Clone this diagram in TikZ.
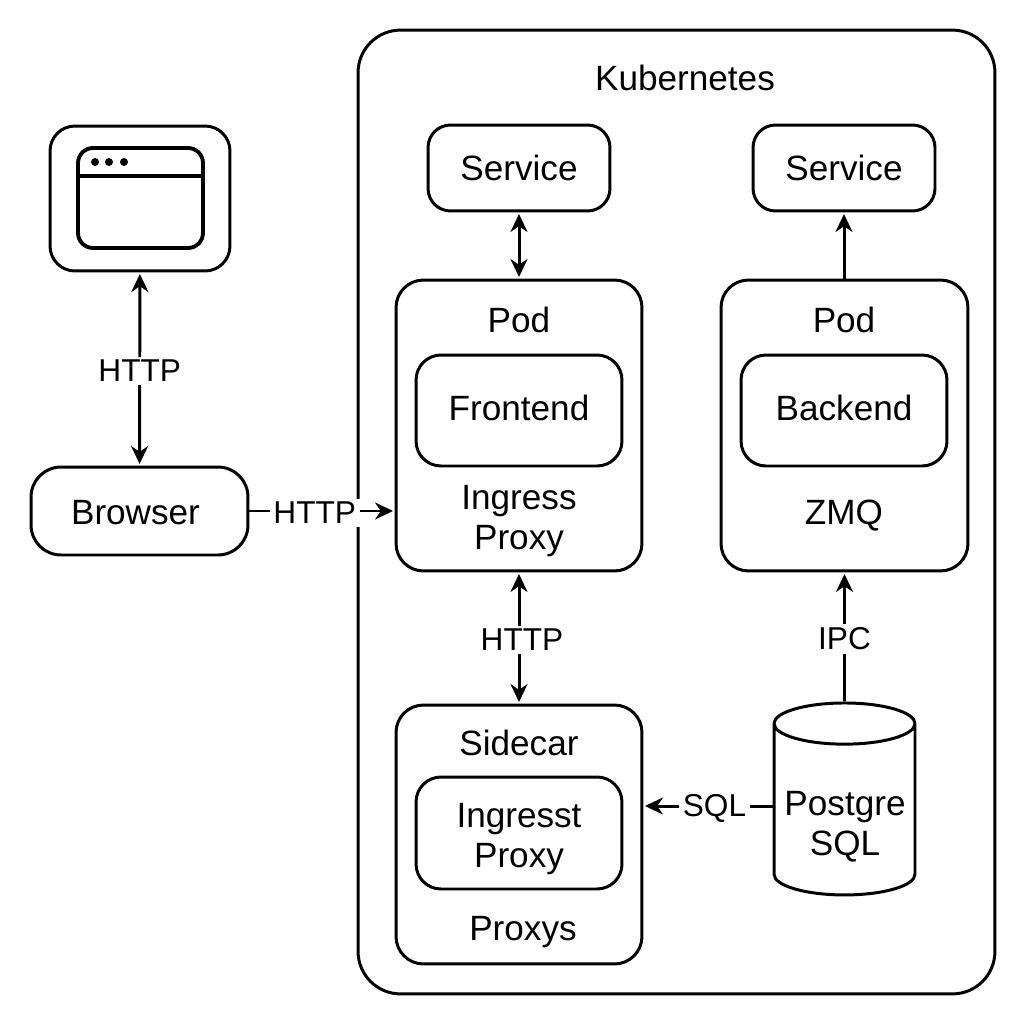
\documentclass[tikz,border=0pt]{standalone}
\usepackage{fontspec}
\setmainfont{Liberation Sans}
\usetikzlibrary{shapes.geometric,arrows.meta,positioning}
\tikzset{
    box/.style = {rectangle, draw, rounded corners=0.5cm, align=center, inner sep=0pt, font=\fontsize{20}{22.8}\selectfont},
    txt/.style = {inner sep=0pt, align=center, font=\fontsize{20}{22.8}\selectfont},
    el/.style = {fill=white, inner sep=2pt, yshift=-0.04cm, font=\fontsize{18}{20}\selectfont},
    dot/.style = {circle, fill, inner sep=0pt, minimum size=0.16cm},
    to/.style = {-{Stealth[length=0.36cm,width=0.34cm]}, shorten >=0.03cm},
    both/.style = {{Stealth[length=0.36cm,width=0.34cm]}-{Stealth[length=0.36cm,width=0.34cm]}, shorten >=0.03cm, shorten <=0.03cm}
}
\begin{document}
\begin{tikzpicture}[x=0.02cm,y=-0.02cm,line width=1.7pt]
    \useasboundingbox (0,0) rectangle (1024,1024);
    \node (k8s) at (676.5,512) [box, rounded corners=0.85cm, minimum width=12.74cm, minimum height=19.28cm] {};
    \node (k8stitle) at (685,78) [txt] {Kubernetes};

    \node (icon) at (140,198.5) [box, minimum width=3.6cm, minimum height=2.9cm] {};
    \node (window) at (140.5,198) [box, line width=2.2pt, rounded corners=0.3cm, minimum width=2.5cm, minimum height=2cm] {};
    \coordinate (barl) at (78,176);
    \coordinate (barr) at (203,176);
    \draw[line width=2.2pt] (barl) -- (barr);
    \node (d1) at (95,162) [dot] {};
    \node (d2) at (109,162) [dot] {};
    \node (d3) at (124,162) [dot] {};
    \node (browser) at (139.5,511) [box, rounded corners=0.6cm, minimum width=4.34cm, minimum height=1.76cm] {};
    \node (browsertitle) at (135.5,513) [txt] {Browser};

    \node (svcf) at (519,168) [box, rounded corners=0.45cm, minimum width=3.64cm, minimum height=1.72cm] {Service};
    \node (svcb) at (844,168) [box, rounded corners=0.45cm, minimum width=3.64cm, minimum height=1.72cm] {Service};

    \node (podf) at (519,425.5) [box, rounded corners=0.55cm, minimum width=4.92cm, minimum height=5.82cm] {};
    \node (podftitle) at (519,320) [txt] {Pod};
    \node (front) at (519,410.5) [box, minimum width=4.12cm, minimum height=2.22cm] {};
    \node (fronttitle) at (519,407.5) [txt] {Frontend};
    \node (ingress) at (519,521) [txt] {Ingress\\Proxy};

    \node (podb) at (844.5,425.5) [box, rounded corners=0.55cm, minimum width=4.94cm, minimum height=5.82cm] {};
    \node (podbtitle) at (844,320) [txt] {Pod};
    \node (back) at (844,410.5) [box, minimum width=4.12cm, minimum height=2.22cm] {};
    \node (backtitle) at (844,407.5) [txt] {Backend};
    \node (zmq) at (844,516) [txt] {ZMQ};

    \node (side) at (519,834.5) [box, rounded corners=0.55cm, minimum width=4.92cm, minimum height=5.18cm] {};
    \node (sidetitle) at (519,743) [txt] {Sidecar};
    \node (sideinner) at (519,833) [box, minimum width=4.12cm, minimum height=2.24cm] {};
    \node (sideinnertitle) at (519,839) [txt] {Ingresst\\Proxy};
    \node (proxys) at (523,932) [txt] {Proxys};

    \node (pg) at (844.5,800) [cylinder, draw, shape border rotate=90, aspect=0.34, inner sep=0pt, align=center, font=\fontsize{20}{22.8}\selectfont, minimum width=2.82cm, minimum height=3.84cm, yshift=-0.2cm] {\phantom{Postgre}\\\phantom{SQL}};
    \node (pgtitle) at (845,827) [txt] {Postgre\\SQL};

    \path[both] (icon) edge node[el] {HTTP} (browser);
    \path[to] (browser.east) edge node[el, pos=0.45] {HTTP} (podf.west |- browser.east);
    \path[both] (svcf) edge (podf);
    \path[to] (podb.north -| svcb) edge (svcb);
    \path[both] (podf) edge node[el, xshift=0.06cm] {HTTP} (side);
    \path[to] (pg.north) edge node[el] {IPC} (podb.south -| pg.north);
    \path[to] (pg.west |- 0,806) edge node[el, pos=0.45] {SQL} (side.east |- 0,806);
\end{tikzpicture}
\end{document}
